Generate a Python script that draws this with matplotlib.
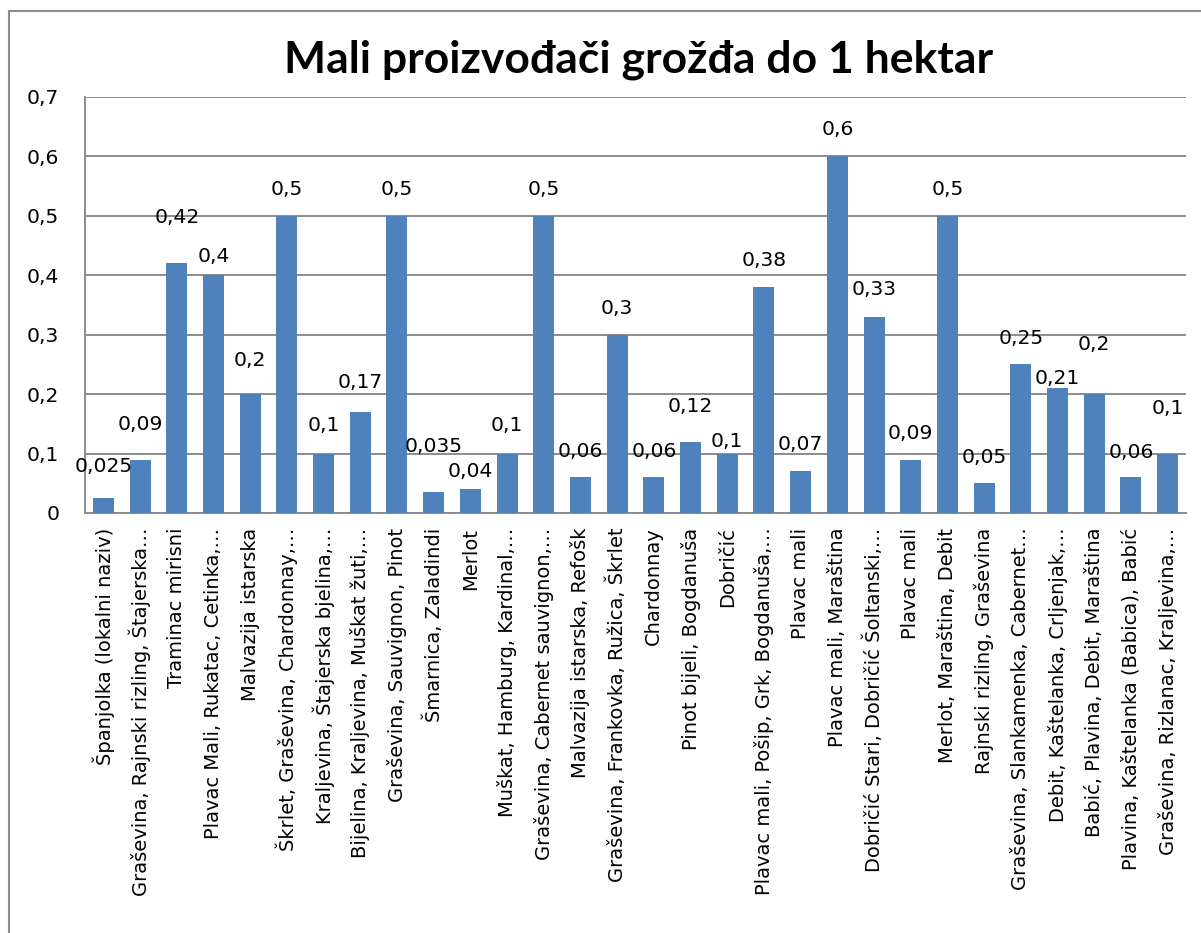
import matplotlib.pyplot as plt
from matplotlib.patches import Rectangle
from matplotlib.ticker import FuncFormatter

plt.rcParams['font.family'] = ['DejaVu Sans']

labels = [
    "Španjolka (lokalni naziv)",
    "Graševina, Rajnski rizling, Štajerska…",
    "Traminac mirisni",
    "Plavac Mali, Rukatac, Cetinka,…",
    "Malvazija istarska",
    "Škrlet, Graševina, Chardonnay,…",
    "Kraljevina, Štajerska bjelina,…",
    "Bijelina, Kraljevina, Muškat žuti,…",
    "Graševina, Sauvignon, Pinot",
    "Šmarnica, Zaladindi",
    "Merlot",
    "Muškat, Hamburg, Kardinal,…",
    "Graševina, Cabernet sauvignon,…",
    "Malvazija istarska, Refošk",
    "Graševina, Frankovka, Ružica, Škrlet",
    "Chardonnay",
    "Pinot bijeli, Bogdanuša",
    "Dobričić",
    "Plavac mali, Pošip, Grk, Bogdanuša,…",
    "Plavac mali",
    "Plavac mali, Maraština",
    "Dobričić Stari, Dobričić Šoltanski,…",
    "Plavac mali",
    "Merlot, Maraština, Debit",
    "Rajnski rizling, Graševina",
    "Graševina, Slankamenka, Cabernet…",
    "Debit, Kaštelanka, Crljenjak,…",
    "Babić, Plavina, Debit, Maraština",
    "Plavina, Kaštelanka (Babica), Babić",
    "Graševina, Rizlanac, Kraljevina,…",
]
values = [0.025, 0.09, 0.42, 0.4, 0.2, 0.5, 0.1, 0.17, 0.5, 0.035,
          0.04, 0.1, 0.5, 0.06, 0.3, 0.06, 0.12, 0.1, 0.38, 0.07,
          0.6, 0.33, 0.09, 0.5, 0.05, 0.25, 0.21, 0.2, 0.06, 0.1]
yticks = [0, 0.1, 0.2, 0.3, 0.4, 0.5, 0.6, 0.7]

# label lift above each bar (px), as placed in the original
label_lift = [32, 35, 46, 19, 34, 26.5, 28, 29, 26.5, 46,
              17.5, 28.5, 26.5, 25.6, 26.4, 25.6, 35, 12, 27, 26.4,
              27, 27, 26, 26.5, 26, 26, 10, 50, 24.6, 45]


def comma(v):
    s = ('%.3f' % v).rstrip('0').rstrip('.')
    return s.replace('.', ',')


fig = plt.figure(figsize=(12.01, 9.33), dpi=100)
fig.patches.append(Rectangle((9 / 1201, -0.01), 1.1, 1 - 11 / 933 + 0.01,
                             transform=fig.transFigure, fill=False,
                             edgecolor='#8c8c8c', linewidth=1.5))
ax = fig.add_axes([85 / 1201, 1 - 513 / 933, 1101 / 1201, 416 / 933])

x = list(range(len(values)))
ax.bar(x, values, width=0.57, color='#4F81BD', zorder=3)
for xi, v, lift in zip(x, values, label_lift):
    ax.annotate(comma(v), (xi, v), xytext=(0, lift * 0.72), textcoords='offset points',
                ha='center', va='center', fontsize=14.6, zorder=4)

ax.set_xlim(-0.5, len(values) - 0.5)
ax.set_ylim(0, 0.7)
ax.set_yticks(yticks)
ax.yaxis.set_major_formatter(FuncFormatter(lambda v, p: comma(v)))
ax.set_xticks(x)
ax.set_xticklabels(labels, rotation=90, fontsize=14)
ax.tick_params(axis='both', length=0)
ax.tick_params(axis='y', pad=18.5, labelsize=14.6)
ax.tick_params(axis='x', pad=10.5)
ax.grid(axis='y', color='#8c8c8c', linewidth=1.4, zorder=0)
for s in ['top', 'right']:
    ax.spines[s].set_visible(False)
for s in ['left', 'bottom']:
    ax.spines[s].set_color('#8c8c8c')
    ax.spines[s].set_linewidth(1.4)

fig.text(0.532, 1 - 60 / 933, "Mali proizvođači grožđa do 1 hektar", ha='center', va='center',
         fontsize=32, fontweight='bold', family=['Lato', 'DejaVu Sans'])

fig.savefig('out.png', dpi=100)
